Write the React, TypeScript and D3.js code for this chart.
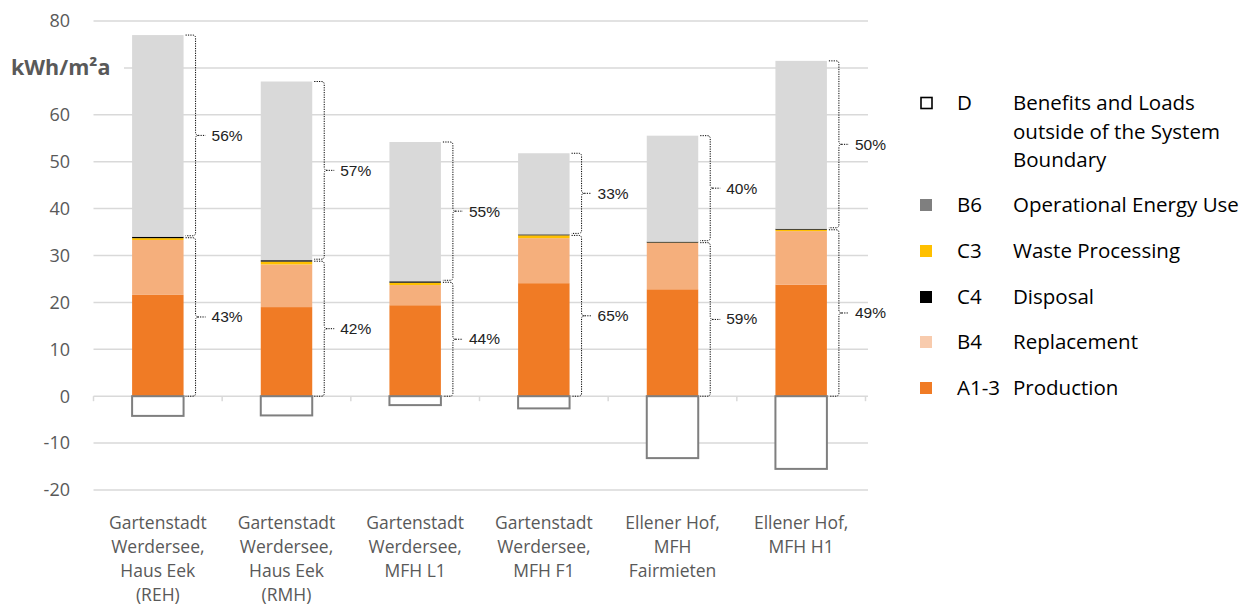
import React from "react";
import * as d3 from "d3";

// Life-cycle stages per building, kWh/m²a
const categories = [
  ["Gartenstadt", "Werdersee,", "Haus Eek", "(REH)"],
  ["Gartenstadt", "Werdersee,", "Haus Eek", "(RMH)"],
  ["Gartenstadt", "Werdersee,", "MFH L1"],
  ["Gartenstadt", "Werdersee,", "MFH F1"],
  ["Ellener Hof,", "MFH", "Fairmieten"],
  ["Ellener Hof,", "MFH H1"],
];
const production = [21.6, 19.0, 19.4, 24.1, 22.8, 23.8]; // A1-3
const replacement = [11.7, 9.1, 4.3, 9.6, 9.9, 11.4]; // B4
const wasteProcessing = [0.4, 0.6, 0.5, 0.6, 0.05, 0.3]; // C3
const disposal = [0.3, 0.3, 0.3, 0.2, 0.2, 0.2]; // C4
const operational = [43.0, 38.1, 29.7, 17.3, 22.6, 35.8]; // B6
const benefits = [-4.2, -4.1, -1.9, -2.6, -13.2, -15.5]; // D
const lowerShare = ["43%", "42%", "44%", "65%", "59%", "49%"];
const upperShare = ["56%", "57%", "55%", "33%", "40%", "50%"];
const yTicks = [80, 60, 50, 40, 30, 20, 10, 0, -10, -20];

const legendItems = [
  { code: "D", lines: ["Benefits and Loads", "outside of the System", "Boundary"], fill: "#ffffff", stroke: "#000000" },
  { code: "B6", lines: ["Operational Energy Use"], fill: "#7f7f7f" },
  { code: "C3", lines: ["Waste Processing"], fill: "#ffc000" },
  { code: "C4", lines: ["Disposal"], fill: "#000000" },
  { code: "B4", lines: ["Replacement"], fill: "#f8cbad" },
  { code: "A1-3", lines: ["Production"], fill: "#f07b25" },
];

const stackSeries = [
  { key: "A1-3", values: production, color: "#f07b25" },
  { key: "B4", values: replacement, color: "#f5af7c" },
  { key: "C3", values: wasteProcessing, color: "#ffc000" },
  { key: "C4", values: disposal, color: "#000000" },
  { key: "B6", values: operational, color: "#d9d9d9" },
];

const FONT = "'Open Sans', Lato, sans-serif";
const GREY_TEXT = "#595959";

function brace(x0: number, yA: number, yB: number) {
  // curly brace on the right side of a bar spanning yA (top) to yB (bottom)
  const xv = x0 + 12;
  const mid = (yA + yB) / 2;
  const r = Math.min(3, Math.abs(yB - yA) / 6);
  return [
    `M${x0 + 2},${yA} L${xv - r},${yA} Q${xv},${yA} ${xv},${yA + r}`,
    `L${xv},${mid - r} Q${xv},${mid} ${xv + r},${mid} L${xv + 10},${mid}`,
    `M${xv + r},${mid} Q${xv},${mid} ${xv},${mid + r}`,
    `L${xv},${yB - r} Q${xv},${yB} ${xv - r},${yB} L${x0 + 2},${yB}`,
  ].join(" ");
}

export default function App() {
  const width = 1255;
  const height = 606;
  const y = d3.scaleLinear().domain([-20, 80]).range([490, 21]);
  const ids = categories.map((_, i) => String(i));
  const x = d3
    .scaleBand<string>()
    .domain(ids)
    .range([93.5, 865.5])
    .paddingInner(0.6)
    .paddingOuter(0.3);
  const step = x.step();
  const bw = x.bandwidth();

  const stacked = ids.map((_, i) => {
    let acc = 0;
    return stackSeries.map((s) => {
      const y0 = acc;
      acc += s.values[i];
      return { key: s.key, y0, y1: acc, color: s.color };
    });
  });

  const gridX0 = 93.5;
  const gridX1 = 868;

  return (
    <svg
      width={width}
      height={height}
      style={{ position: "absolute", left: 0, top: 0, background: "#fff" }}
      fontFamily={FONT}
    >
      {/* gridlines */}
      {yTicks.map((t) => (
        <line key={t} x1={gridX0} x2={gridX1} y1={y(t)} y2={y(t)} stroke="#d9d9d9" strokeWidth={1.5} />
      ))}
      <line x1={gridX0} x2={gridX1} y1={y(70)} y2={y(70)} stroke="#d9d9d9" strokeWidth={1.5} />
      {/* category ticks on the zero line */}
      {d3.range(categories.length + 1).map((i) => (
        <line
          key={i}
          x1={gridX0 + i * step}
          x2={gridX0 + i * step}
          y1={y(0)}
          y2={y(0) + 5}
          stroke="#d9d9d9"
          strokeWidth={1.5}
        />
      ))}

      {/* y tick labels */}
      {yTicks.map((t) => (
        <text
          key={t}
          x={70}
          y={y(t)}
          dy="0.35em"
          textAnchor="end"
          fontSize={18}
          fill={GREY_TEXT}
        >
          {t}
        </text>
      ))}
      <rect x={6} y={y(70) - 13} width={118} height={26} fill="#fff" />
      <text x={11} y={y(70)} dy="0.35em" fontSize={21.5} fontWeight="bold" fill={GREY_TEXT}>
        kWh/m²a
      </text>

      {/* stacked bars */}
      {stacked.map((segs, i) => (
        <g key={i} transform={`translate(${x(ids[i])},0)`}>
          {segs.map((s) => (
            <rect
              key={s.key}
              x={0}
              y={y(s.y1)}
              width={bw}
              height={Math.max(0, y(s.y0) - y(s.y1))}
              fill={s.color}
            />
          ))}
          {/* D: benefits below zero */}
          <rect
            x={0}
            y={y(0)}
            width={bw}
            height={y(benefits[i]) - y(0)}
            fill="#fff"
            stroke="#7f7f7f"
            strokeWidth={2}
          />
        </g>
      ))}

      {/* share braces */}
      {stacked.map((segs, i) => {
        const xr = (x(ids[i]) as number) + bw;
        const total = segs[segs.length - 1].y1;
        const boundary = segs[3].y1;
        const yT = y(total);
        const yB = y(boundary);
        const y0 = y(0);
        return (
          <g key={i}>
            <path d={brace(xr, yT, yB - 1)} fill="none" stroke="#000" strokeWidth={1} strokeDasharray="1.2,1.2" />
            <path d={brace(xr, yB + 1, y0)} fill="none" stroke="#000" strokeWidth={1} strokeDasharray="1.2,1.2" />
            <text x={xr + 28} y={(yT + yB) / 2} dy="0.35em" fontSize={15.5} fontFamily="'Liberation Sans', Arial, sans-serif" fill="#222">
              {upperShare[i]}
            </text>
            <text x={xr + 28} y={(yB + y0) / 2} dy="0.35em" fontSize={15.5} fontFamily="'Liberation Sans', Arial, sans-serif" fill="#222">
              {lowerShare[i]}
            </text>
          </g>
        );
      })}

      {/* category labels */}
      {categories.map((lines, i) => (
        <text key={i} textAnchor="middle" fontSize={17.5} fill={GREY_TEXT}>
          {lines.map((l, j) => (
            <tspan key={j} x={(x(ids[i]) as number) + bw / 2} y={523 + j * 24} dy="0.35em">
              {l}
            </tspan>
          ))}
        </text>
      ))}

      {/* legend */}
      {legendItems.map((item, k) => {
        const rowsY = [103, 205, 251, 297, 342, 388];
        const ly = rowsY[k];
        return (
          <g key={item.code}>
            {item.stroke ? (
              <rect x={921} y={ly - 5.5} width={11} height={11} fill={item.fill} stroke={item.stroke} strokeWidth={1.6} />
            ) : (
              <rect x={920} y={ly - 6} width={12} height={12} fill={item.fill} />
            )}
            <text x={957} y={ly} dy="0.35em" fontSize={20.5} fill="#000">
              {item.code}
            </text>
            <text fontSize={20.5} fill="#000">
              {item.lines.map((l, j) => (
                <tspan key={j} x={1013} y={ly + j * 28.5} dy="0.35em">
                  {l}
                </tspan>
              ))}
            </text>
          </g>
        );
      })}
    </svg>
  );
}
